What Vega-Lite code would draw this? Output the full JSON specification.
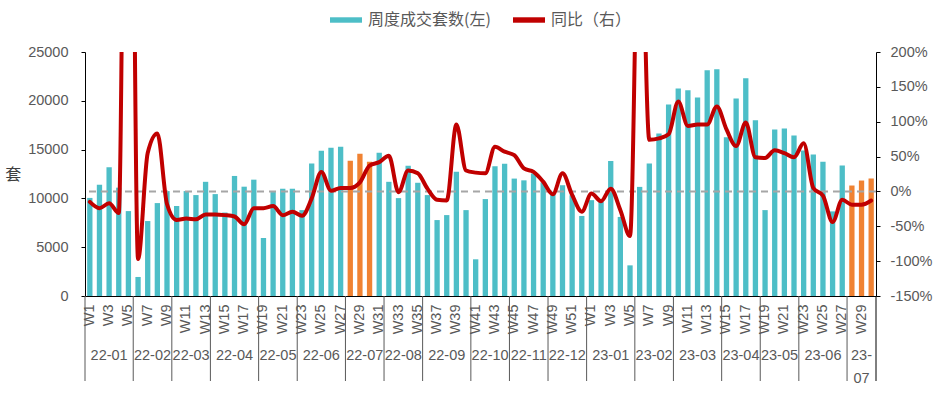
{
  "$schema": "https://vega.github.io/schema/vega-lite/v6.json",
  "background": "white",
  "padding": {"left": 4, "right": 4, "top": 4, "bottom": 12},
  "bounds": "flush",
  "spacing": 0,
  "config": {
    "view": {"stroke": null},
    "font": "Liberation Sans",
    "axis": {"labelFont": "Liberation Sans", "labelFontSize": 14.5, "labelColor": "#595959", "domainColor": "#000000", "tickColor": "#000000", "grid": false},
    "legend": {"layout": {"top": {"anchor": "middle"}}}
  },
  "datasets": {
    "weeks": [
      {"key": "22W01", "wk": 1, "month": "22-01", "sales": 10050, "yoy": -15},
      {"key": "22W02", "wk": 2, "month": "22-01", "sales": 11400, "yoy": -24},
      {"key": "22W03", "wk": 3, "month": "22-01", "sales": 13200, "yoy": -17},
      {"key": "22W04", "wk": 4, "month": "22-01", "sales": 11100, "yoy": -31},
      {"key": "22W05", "wk": 5, "month": "22-01", "sales": 8700, "yoy": 1100},
      {"key": "22W06", "wk": 6, "month": "22-02", "sales": 1950, "yoy": -97},
      {"key": "22W07", "wk": 7, "month": "22-02", "sales": 7680, "yoy": 55},
      {"key": "22W08", "wk": 8, "month": "22-02", "sales": 9520, "yoy": 83},
      {"key": "22W09", "wk": 9, "month": "22-02", "sales": 10750, "yoy": -18},
      {"key": "22W10", "wk": 10, "month": "22-03", "sales": 9220, "yoy": -41},
      {"key": "22W11", "wk": 11, "month": "22-03", "sales": 10750, "yoy": -39},
      {"key": "22W12", "wk": 12, "month": "22-03", "sales": 10340, "yoy": -40},
      {"key": "22W13", "wk": 13, "month": "22-03", "sales": 11700, "yoy": -33},
      {"key": "22W14", "wk": 14, "month": "22-04", "sales": 10440, "yoy": -33},
      {"key": "22W15", "wk": 15, "month": "22-04", "sales": 8550, "yoy": -34},
      {"key": "22W16", "wk": 16, "month": "22-04", "sales": 12300, "yoy": -36},
      {"key": "22W17", "wk": 17, "month": "22-04", "sales": 11200, "yoy": -47},
      {"key": "22W18", "wk": 18, "month": "22-04", "sales": 11920, "yoy": -24},
      {"key": "22W19", "wk": 19, "month": "22-05", "sales": 5940, "yoy": -24},
      {"key": "22W20", "wk": 20, "month": "22-05", "sales": 10650, "yoy": -21},
      {"key": "22W21", "wk": 21, "month": "22-05", "sales": 10990, "yoy": -34},
      {"key": "22W22", "wk": 22, "month": "22-05", "sales": 10990, "yoy": -29},
      {"key": "22W23", "wk": 23, "month": "22-06", "sales": 8800, "yoy": -35},
      {"key": "22W24", "wk": 24, "month": "22-06", "sales": 13580, "yoy": -10},
      {"key": "22W25", "wk": 25, "month": "22-06", "sales": 14880, "yoy": 28},
      {"key": "22W26", "wk": 26, "month": "22-06", "sales": 15190, "yoy": 1},
      {"key": "22W27", "wk": 27, "month": "22-06", "sales": 15290, "yoy": 5},
      {"key": "22W28", "wk": 28, "month": "22-07", "sales": 13860, "yoy": 5},
      {"key": "22W29", "wk": 29, "month": "22-07", "sales": 14570, "yoy": 13},
      {"key": "22W30", "wk": 30, "month": "22-07", "sales": 13750, "yoy": 37},
      {"key": "22W31", "wk": 31, "month": "22-07", "sales": 14680, "yoy": 42},
      {"key": "22W32", "wk": 32, "month": "22-08", "sales": 11700, "yoy": 51},
      {"key": "22W33", "wk": 33, "month": "22-08", "sales": 10030, "yoy": -1},
      {"key": "22W34", "wk": 34, "month": "22-08", "sales": 13340, "yoy": 30},
      {"key": "22W35", "wk": 35, "month": "22-08", "sales": 11600, "yoy": 26},
      {"key": "22W36", "wk": 36, "month": "22-09", "sales": 10340, "yoy": 4},
      {"key": "22W37", "wk": 37, "month": "22-09", "sales": 7780, "yoy": -12},
      {"key": "22W38", "wk": 38, "month": "22-09", "sales": 8290, "yoy": -13},
      {"key": "22W39", "wk": 39, "month": "22-09", "sales": 12730, "yoy": 96},
      {"key": "22W40", "wk": 40, "month": "22-09", "sales": 8800, "yoy": 30},
      {"key": "22W41", "wk": 41, "month": "22-10", "sales": 3760, "yoy": 27},
      {"key": "22W42", "wk": 42, "month": "22-10", "sales": 9930, "yoy": 26},
      {"key": "22W43", "wk": 43, "month": "22-10", "sales": 13300, "yoy": 64},
      {"key": "22W44", "wk": 44, "month": "22-10", "sales": 13560, "yoy": 57},
      {"key": "22W45", "wk": 45, "month": "22-11", "sales": 12030, "yoy": 52},
      {"key": "22W46", "wk": 46, "month": "22-11", "sales": 11850, "yoy": 33},
      {"key": "22W47", "wk": 47, "month": "22-11", "sales": 12550, "yoy": 28},
      {"key": "22W48", "wk": 48, "month": "22-11", "sales": 11650, "yoy": 14},
      {"key": "22W49", "wk": 49, "month": "22-12", "sales": 10700, "yoy": -4},
      {"key": "22W50", "wk": 50, "month": "22-12", "sales": 11350, "yoy": 26},
      {"key": "22W51", "wk": 51, "month": "22-12", "sales": 10320, "yoy": -5},
      {"key": "22W52", "wk": 52, "month": "22-12", "sales": 8200, "yoy": -29},
      {"key": "23W01", "wk": 1, "month": "23-01", "sales": 9820, "yoy": -3},
      {"key": "23W02", "wk": 2, "month": "23-01", "sales": 9640, "yoy": -14},
      {"key": "23W03", "wk": 3, "month": "23-01", "sales": 13840, "yoy": 4},
      {"key": "23W04", "wk": 4, "month": "23-01", "sales": 8100, "yoy": -27},
      {"key": "23W05", "wk": 5, "month": "23-01", "sales": 3140, "yoy": -64},
      {"key": "23W06", "wk": 6, "month": "23-02", "sales": 11180, "yoy": 474},
      {"key": "23W07", "wk": 7, "month": "23-02", "sales": 13570, "yoy": 74},
      {"key": "23W08", "wk": 8, "month": "23-02", "sales": 16660, "yoy": 76},
      {"key": "23W09", "wk": 9, "month": "23-02", "sales": 19630, "yoy": 82},
      {"key": "23W10", "wk": 10, "month": "23-03", "sales": 21270, "yoy": 129},
      {"key": "23W11", "wk": 11, "month": "23-03", "sales": 21080, "yoy": 94},
      {"key": "23W12", "wk": 12, "month": "23-03", "sales": 20330, "yoy": 96},
      {"key": "23W13", "wk": 13, "month": "23-03", "sales": 23130, "yoy": 96},
      {"key": "23W14", "wk": 14, "month": "23-03", "sales": 23230, "yoy": 122},
      {"key": "23W15", "wk": 15, "month": "23-04", "sales": 16270, "yoy": 89},
      {"key": "23W16", "wk": 16, "month": "23-04", "sales": 20230, "yoy": 65},
      {"key": "23W17", "wk": 17, "month": "23-04", "sales": 22300, "yoy": 99},
      {"key": "23W18", "wk": 18, "month": "23-04", "sales": 18000, "yoy": 49},
      {"key": "23W19", "wk": 19, "month": "23-05", "sales": 8800, "yoy": 48},
      {"key": "23W20", "wk": 20, "month": "23-05", "sales": 17060, "yoy": 59},
      {"key": "23W21", "wk": 21, "month": "23-05", "sales": 17170, "yoy": 55},
      {"key": "23W22", "wk": 22, "month": "23-05", "sales": 16440, "yoy": 49},
      {"key": "23W23", "wk": 23, "month": "23-06", "sales": 14900, "yoy": 69},
      {"key": "23W24", "wk": 24, "month": "23-06", "sales": 14500, "yoy": 5},
      {"key": "23W25", "wk": 25, "month": "23-06", "sales": 13750, "yoy": -6},
      {"key": "23W26", "wk": 26, "month": "23-06", "sales": 8670, "yoy": -44},
      {"key": "23W27", "wk": 27, "month": "23-06", "sales": 13370, "yoy": -12},
      {"key": "23W28", "wk": 28, "month": "23-\n07", "sales": 11320, "yoy": -19},
      {"key": "23W29", "wk": 29, "month": "23-\n07", "sales": 11830, "yoy": -19},
      {"key": "23W30", "wk": 30, "month": "23-\n07", "sales": 12040, "yoy": -13}
    ]
  },
  "resolve": {"scale": {"x": "shared"}},
  "vconcat": [
    {
      "width": 791,
      "height": 244,
      "data": {"name": "weeks"},
      "layer": [
        {
          "mark": {"type": "bar", "width": {"band": 0.55}},
          "encoding": {
            "x": {
              "field": "key", "type": "ordinal",
              "scale": {"paddingInner": 0, "paddingOuter": 0},
              "axis": {"title": null, "labelAngle": 270, "labelAlign": "right", "labelBaseline": "middle", "ticks": false, "tickSize": 0, "labelPadding": 8, "labelOverlap": false,
                "labelExpr": "toNumber(substring(datum.value, 3)) % 2 == 1 ? 'W' + toNumber(substring(datum.value, 3)) : ''"}
            },
            "y": {
              "field": "sales", "type": "quantitative",
              "scale": {"domain": [0, 25000]},
              "axis": {"orient": "left", "values": [0, 5000, 10000, 15000, 20000, 25000], "format": "d", "tickSize": 4, "labelPadding": 13,
                "title": "套", "titleAngle": 0, "titleAlign": "right", "titleBaseline": "middle", "titlePadding": 7, "titleFont": "Noto Sans CJK SC", "titleFontSize": 16, "titleFontWeight": "normal", "titleColor": "#404040"}
            },
            "color": {
              "datum": "周度成交套数(左)",
              "condition": {"test": "datum.wk >= 28 && datum.wk <= 30", "value": "#F08232"},
              "scale": {"domain": ["周度成交套数(左)", "同比（右）"], "range": ["#4DBEC7", "#C00000"]},
              "legend": {"title": null, "orient": "top", "direction": "horizontal", "symbolType": "M-1,-0.17L1,-0.17L1,0.17L-1,0.17Z", "symbolSize": 1024, "symbolStrokeWidth": 0,
                "labelFont": "Noto Sans CJK SC", "labelFontSize": 16, "labelColor": "#595959", "labelOffset": 6, "columnPadding": 22, "offset": 16}
            }
          }
        },
        {
          "layer": [
            {
              "transform": [{"aggregate": [{"op": "count", "as": "n"}]}],
              "mark": {"type": "rule", "color": "#A6A6A6", "strokeWidth": 2, "strokeDash": [7, 5]},
              "encoding": {
                "y": {"datum": 0, "type": "quantitative",
                  "axis": {"orient": "right", "values": [-150, -100, -50, 0, 50, 100, 150, 200], "labelExpr": "datum.value + '%'", "tickSize": 4, "labelPadding": 10, "title": null}}
              }
            },
            {
              "mark": {"type": "line", "color": "#C00000", "strokeWidth": 4, "interpolate": "monotone", "clip": true, "strokeCap": "round", "strokeJoin": "round"},
              "encoding": {
                "x": {"field": "key", "type": "ordinal", "scale": {"paddingInner": 0, "paddingOuter": 0},
                  "axis": {"title": null, "labelAngle": 270, "labelAlign": "right", "labelBaseline": "middle", "ticks": false, "tickSize": 0, "labelPadding": 8, "labelOverlap": false,
                    "labelExpr": "toNumber(substring(datum.value, 3)) % 2 == 1 ? 'W' + toNumber(substring(datum.value, 3)) : ''"}},
                "y": {"field": "yoy", "type": "quantitative", "scale": {"domain": [-150, 200]},
                  "axis": {"orient": "right", "values": [-150, -100, -50, 0, 50, 100, 150, 200], "labelExpr": "datum.value + '%'", "tickSize": 4, "labelPadding": 10, "title": null}}
              }
            }
          ]
        }
      ],
      "resolve": {"scale": {"y": "independent"}}
    },
    {
      "width": 791,
      "height": 85,
      "data": {"name": "weeks"},
      "layer": [
        {
          "transform": [
            {"window": [{"op": "row_number", "as": "r"}], "groupby": ["month"], "sort": [{"field": "key", "order": "ascending"}]},
            {"filter": "datum.r == 1"}
          ],
          "mark": {"type": "rule", "color": "#595959", "strokeWidth": 1},
          "encoding": {"x": {"field": "key", "type": "ordinal", "bandPosition": 0, "scale": {"paddingInner": 0, "paddingOuter": 0}, "axis": null}}
        },
        {
          "transform": [
            {"window": [{"op": "row_number", "as": "r"}], "sort": [{"field": "key", "order": "descending"}]},
            {"filter": "datum.r == 1"}
          ],
          "mark": {"type": "rule", "color": "#000000", "strokeWidth": 1},
          "encoding": {"x": {"field": "key", "type": "ordinal", "bandPosition": 1, "scale": {"paddingInner": 0, "paddingOuter": 0}, "axis": null}}
        },
        {
          "transform": [
            {"window": [{"op": "row_number", "as": "r"}], "groupby": ["month"], "sort": [{"field": "key", "order": "ascending"}]},
            {"joinaggregate": [{"op": "count", "as": "n"}], "groupby": ["month"]},
            {"filter": "datum.r == floor(datum.n / 2) + 1 && datum.n % 2 == 1"}
          ],
          "mark": {"type": "text", "font": "Liberation Sans", "fontSize": 14.5, "color": "#595959", "baseline": "top", "dy": 10, "lineBreak": "\n", "lineHeight": 23},
          "encoding": {
            "x": {"field": "key", "type": "ordinal", "bandPosition": 0.5, "scale": {"paddingInner": 0, "paddingOuter": 0}, "axis": null},
            "text": {"field": "month"}
          }
        },
        {
          "transform": [
            {"window": [{"op": "row_number", "as": "r"}], "groupby": ["month"], "sort": [{"field": "key", "order": "ascending"}]},
            {"joinaggregate": [{"op": "count", "as": "n"}], "groupby": ["month"]},
            {"filter": "datum.r == floor(datum.n / 2) + 1 && datum.n % 2 == 0"}
          ],
          "mark": {"type": "text", "font": "Liberation Sans", "fontSize": 14.5, "color": "#595959", "baseline": "top", "dy": 10, "lineBreak": "\n", "lineHeight": 23},
          "encoding": {
            "x": {"field": "key", "type": "ordinal", "bandPosition": 0, "scale": {"paddingInner": 0, "paddingOuter": 0}, "axis": null},
            "text": {"field": "month"}
          }
        }
      ]
    }
  ]
}
